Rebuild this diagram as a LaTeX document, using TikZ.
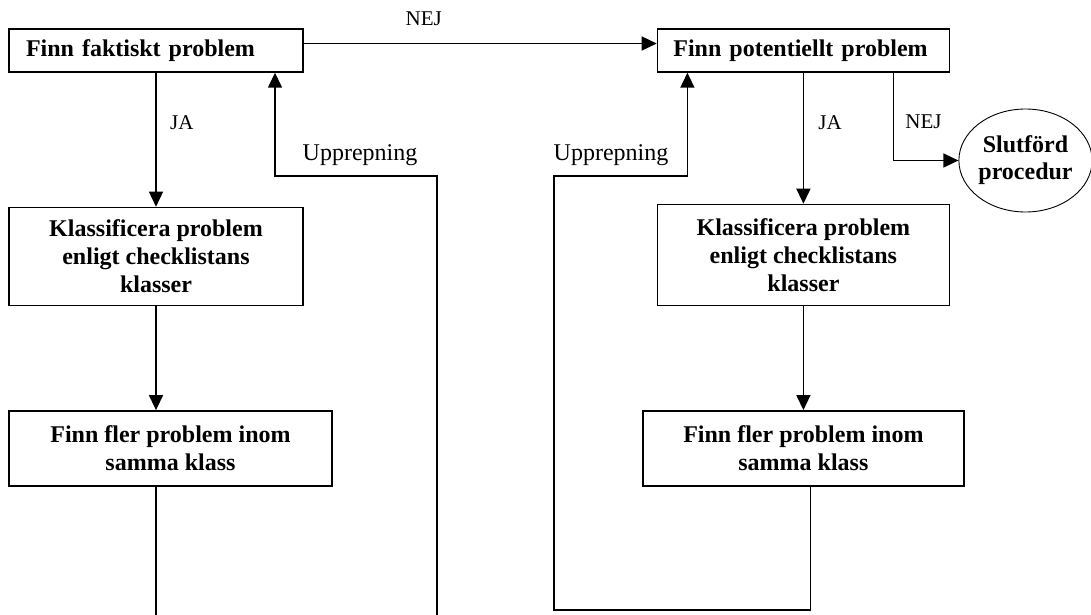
\documentclass[tikz,border=0pt]{standalone}
\usepackage{fontspec}
\setmainfont{Liberation Serif}
\usetikzlibrary{shapes.geometric, arrows.meta, positioning, calc}
\tikzset{
    stepbox/.style={
        rectangle,
        draw=black,
        line width=1.4pt,
        align=center,
        inner sep=0pt,
        font=\fontsize{24}{28}\selectfont\bfseries
    },
    topbox/.style={
        stepbox,
        align=left,
        text width=260pt,
        inner xsep=16pt,
        minimum height=43pt
    },
    endnode/.style={
        ellipse,
        draw=black,
        line width=0.9pt,
        minimum width=125pt,
        minimum height=103pt,
        inner sep=0pt,
        align=center,
        font=\fontsize{24}{27}\selectfont\bfseries
    },
    wire/.style={
        draw=black,
        line width=1.5pt,
        -{Triangle[length=15pt,width=14pt]}
    },
    plainwire/.style={
        draw=black,
        line width=1.5pt
    },
    wirelabel/.style={
        font=\fontsize{21}{24}\selectfont
    },
    looplabel/.style={
        font=\fontsize{24}{28}\selectfont
    }
}

\begin{document}
\begin{tikzpicture}[x=1pt, y=-1pt]
\useasboundingbox (0,0) rectangle (1091,615);

% Actual problems
\node[topbox, minimum width=294pt] (fakt) at (156,50.5) {Finn faktiskt problem};
\node[stepbox, below=134pt of fakt, minimum width=294pt, minimum height=98pt] (klassL) {Klassificera problem\\enligt checklistans\\klasser};
\node[stepbox, below=104pt of klassL.south west, anchor=north west, minimum width=323pt, minimum height=75pt] (flerL) {Finn fler problem inom\\samma klass};

% Potential problems
\node[topbox, right=353pt of fakt] (pot) {Finn potentiellt problem};
\node[stepbox, below=131pt of pot, minimum width=292pt, minimum height=101pt] (klassR) {Klassificera problem\\enligt checklistans\\klasser};
\node[stepbox, below=104pt of klassR, minimum width=321pt, minimum height=75pt] (flerR) {Finn fler problem inom\\samma klass};

\node[endnode] (slut) at (1025.5,160.5) {Slutförd\\procedur};

% Loop corners and free ends at the lower edge
\coordinate (bottomEdge) at (0,615);
\coordinate (cutR) at (437,615);
\coordinate (retA) at (275,176);
\coordinate (botB) at (554,610);
\coordinate (retB) at (554,176);

\draw[wire] ([yshift=7pt]fakt.east) -- node[wirelabel, above=14pt, pos=0.34] (nejTop) {NEJ} ([yshift=7pt]pot.west);

\draw[wire] (fakt) -- node[wirelabel, right=10pt, pos=0.37] (jaL) {JA} (klassL);
\draw[wire] (klassL.south) -- (klassL.south |- flerL.north);
\draw[plainwire] (flerL.south -| klassL.south) -- (klassL.south |- bottomEdge);
\draw[wire] (cutR) |- (retA) -- (retA |- fakt.south);
\node[looplabel] (uppL) at (360,155) {Upprepning};

\draw[wire] (pot) -- node[wirelabel, right=11pt, pos=0.38] (jaR) {JA} (klassR);
\draw[wire] ([xshift=90pt]pot.south) |- node[wirelabel, right=8pt, pos=0.28] (nejR) {NEJ} (slut.west);
\draw[wire] (klassR) -- (flerR);
\draw[wire] ([xshift=7pt]flerR.south) |- (botB) -- (retB) -| ([xshift=-116pt]pot.south);
\node[looplabel] (uppR) at (611,155) {Upprepning};

\end{tikzpicture}
\end{document}
